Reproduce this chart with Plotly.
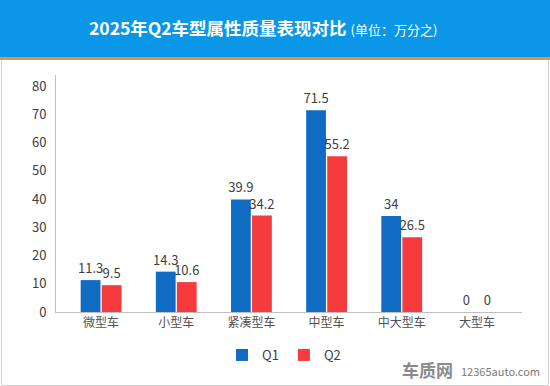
import plotly.graph_objects as go

categories = ["微型车", "小型车", "紧凑型车", "中型车", "中大型车", "大型车"]
q1_values = [11.3, 14.3, 39.9, 71.5, 34, 0]
q2_values = [9.5, 10.6, 34.2, 55.2, 26.5, 0]
q1_labels = ["11.3", "14.3", "39.9", "71.5", "34", "0"]
q2_labels = ["9.5", "10.6", "34.2", "55.2", "26.5", "0"]
y_ticks = [0, 10, 20, 30, 40, 50, 60, 70, 80]

W, H = 550, 386
L, R, T, B = 56, 522, 75, 312

def py(p):
    return (B - p) / (B - T)

def px(p):
    return (p - L) / (R - L)

FONT = "Noto Sans CJK SC"
TXT = "#404040"

fig = go.Figure()
fig.add_trace(go.Bar(
    name="Q1", x=categories, y=q1_values, text=q1_labels,
    textposition="outside", cliponaxis=False, constraintext="none",
    marker=dict(color="#0f6cc2", line=dict(width=0)),
    textfont=dict(family=FONT, size=13, color=TXT),
))
fig.add_trace(go.Bar(
    name="Q2", x=categories, y=q2_values, text=q2_labels,
    textposition="outside", cliponaxis=False, constraintext="none",
    marker=dict(color="#f53b3d", line=dict(width=0)),
    textfont=dict(family=FONT, size=13, color=TXT),
))

shapes = [
    dict(type="rect", xref="paper", yref="paper", x0=px(0), x1=px(W), y0=py(57), y1=py(0),
         fillcolor="#0a97e8", line=dict(width=0), layer="below"),
    dict(type="rect", xref="paper", yref="paper", x0=px(0), x1=px(W), y0=py(60), y1=py(57),
         fillcolor="#de9440", line=dict(width=0), layer="below"),
    dict(type="line", xref="paper", yref="paper", x0=px(1.5), x1=px(1.5), y0=py(385), y1=py(60),
         line=dict(color="#d0d0d0", width=1)),
    dict(type="line", xref="paper", yref="paper", x0=px(548.5), x1=px(548.5), y0=py(385), y1=py(60),
         line=dict(color="#d0d0d0", width=1)),
    dict(type="line", xref="paper", yref="paper", x0=px(1.5), x1=px(548.5), y0=py(385.5), y1=py(385.5),
         line=dict(color="#d0d0d0", width=1)),
]

annotations = [
    dict(xref="paper", yref="paper", x=px(87), y=py(28), xanchor="left", yanchor="middle",
         text="<b>2025年Q2车型属性质量表现对比</b> <span style='font-size:13px'>(单位：万分之)</span>",
         showarrow=False, font=dict(family=FONT, size=17.5, color="white")),
    dict(xref="paper", yref="paper", x=px(455), y=py(369), xanchor="right", yanchor="middle",
         text="<b>车质网</b>", showarrow=False,
         font=dict(family=FONT, size=17, color="#8a8a8a")),
    dict(xref="paper", yref="paper", x=px(459), y=py(371), xanchor="left", yanchor="middle",
         text="12365auto.com", showarrow=False,
         font=dict(family=FONT, size=11, color="#7a7a7a")),
]

fig.update_layout(
    width=W, height=H,
    margin=dict(l=L, r=W - R, t=T, b=H - B, pad=0, autoexpand=False),
    paper_bgcolor="white", plot_bgcolor="white",
    barmode="group", bargap=0.44, bargroupgap=0.06,
    showlegend=True,
    legend=dict(orientation="h", x=px(284), xanchor="center", y=py(355), yanchor="middle",
                font=dict(family=FONT, size=13, color=TXT), itemwidth=30,
                traceorder="normal", bgcolor="rgba(0,0,0,0)"),
    font=dict(family=FONT, size=12, color=TXT),
    shapes=shapes, annotations=annotations,
    xaxis=dict(range=[-0.6, 5.6], showline=True, linecolor="#bfbfbf", linewidth=1, automargin=False,
               ticks="", showgrid=False, tickfont=dict(family=FONT, size=12, color="#505050")),
    yaxis=dict(range=[0, 84], tickvals=y_ticks, showline=True, linecolor="#bfbfbf", linewidth=1,
               automargin=False, ticks="", showgrid=False, zeroline=False, ticklabelstandoff=6,
               tickfont=dict(family=FONT, size=13, color=TXT)),
)

fig.write_html("out.html", config={"displayModeBar": False},
               post_script="document.body.style.margin='0';document.body.style.overflow='hidden';")
